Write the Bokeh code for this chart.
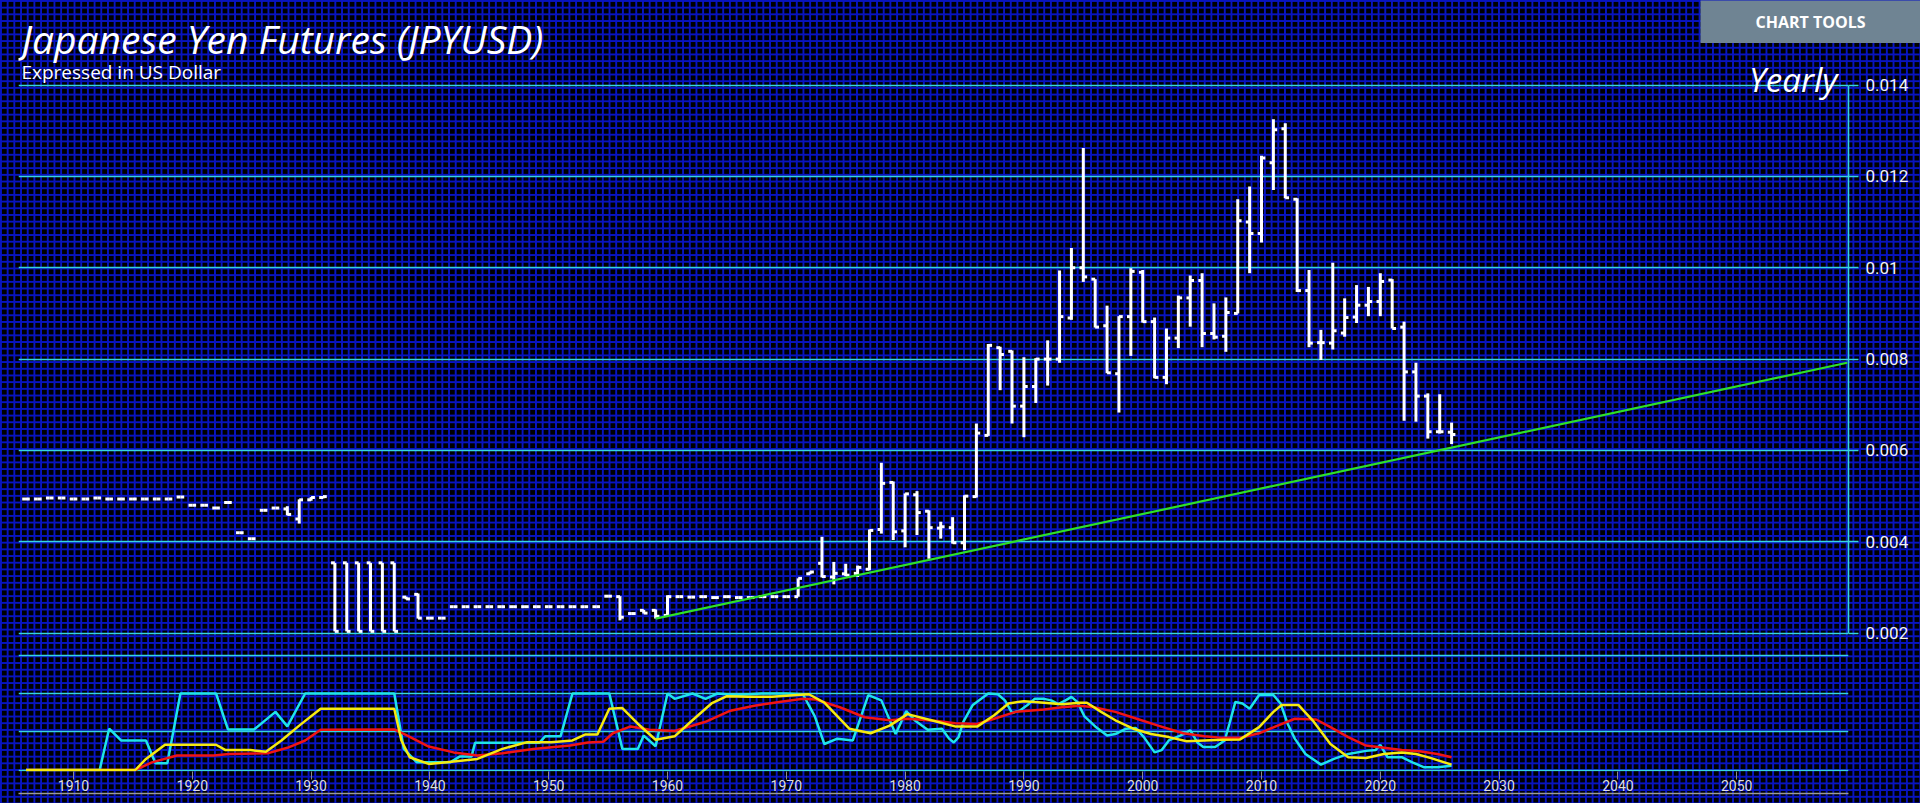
from bokeh.plotting import figure
from bokeh.models import (Range1d, FixedTicker, Grid, Label, LinearAxis,
                          CustomJSTickFormatter, GlobalInlineStyleSheet)
from bokeh.embed import file_html
from bokeh.resources import INLINE

# ---------------- data ----------------
years = list(range(1906, 2027))

open_ = [
    0.00494, 0.00494, 0.00496, 0.00496,
    0.00494, 0.00494, 0.00496, 0.00494, 0.00494, 0.00494, 0.00494, 0.00494, 0.00494, 0.00498,
    0.0048, 0.0048, 0.00474, 0.00486, 0.0042, 0.00407, 0.00469, 0.00474, 0.00472, 0.0045,
    0.00492, 0.00497, 0.00354, 0.00354, 0.00354, 0.00354, 0.00354, 0.00354, 0.00279, 0.00285,
    0.00233, 0.00233, 0.00258, 0.00258, 0.00258, 0.00258, 0.00258, 0.00258, 0.00258, 0.00258,
    0.00258, 0.00258, 0.00258, 0.00258, 0.00258, 0.00281, 0.0028, 0.00243, 0.0025, 0.0025,
    0.00239, 0.0028, 0.00279, 0.0028, 0.00278, 0.0028, 0.00278, 0.00278, 0.0028, 0.0028,
    0.0028, 0.0028, 0.0033, 0.00353, 0.00323, 0.0033, 0.00331, 0.0034, 0.00427, 0.0053,
    0.00424, 0.00503, 0.00467, 0.0043, 0.00431, 0.00398, 0.00499, 0.00633, 0.00825, 0.00817,
    0.00697, 0.0074, 0.008, 0.008, 0.0089, 0.01, 0.00975, 0.00873, 0.00768, 0.00893,
    0.0099, 0.00882, 0.0076, 0.00846, 0.00934, 0.00972, 0.00856, 0.0085, 0.009, 0.011,
    0.01075, 0.0123, 0.01304, 0.0115, 0.0095, 0.00836, 0.00835, 0.00857, 0.00892, 0.00918,
    0.00926, 0.00973, 0.0087, 0.00772, 0.00719, 0.00641, 0.0064,
]
high = [
    0.00494, 0.00494, 0.00496, 0.00496,
    0.00494, 0.00494, 0.00496, 0.00494, 0.00494, 0.00494, 0.00494, 0.00494, 0.00494, 0.00498,
    0.0048, 0.0048, 0.00474, 0.00486, 0.0042, 0.00407, 0.00469, 0.00474, 0.00478, 0.00493,
    0.00498, 0.005, 0.00354, 0.00354, 0.00354, 0.00354, 0.00354, 0.00354, 0.0028, 0.00287,
    0.00233, 0.00233, 0.00258, 0.00258, 0.00258, 0.00258, 0.00258, 0.00258, 0.00258, 0.00258,
    0.00258, 0.00258, 0.00258, 0.00258, 0.00258, 0.00281, 0.00281, 0.00243, 0.00251, 0.00252,
    0.00283, 0.0028, 0.00279, 0.0028, 0.00278, 0.0028, 0.00278, 0.00278, 0.0028, 0.0028,
    0.0028, 0.0032, 0.00335, 0.00411, 0.00356, 0.00352, 0.00348, 0.00427, 0.00573, 0.00532,
    0.00506, 0.00511, 0.00469, 0.00444, 0.00454, 0.00502, 0.00659, 0.00833, 0.00827, 0.00819,
    0.00804, 0.00802, 0.00841, 0.00994, 0.01043, 0.01262, 0.00975, 0.00917, 0.00894, 0.00999,
    0.00995, 0.00891, 0.00867, 0.00939, 0.00983, 0.00988, 0.00922, 0.00935, 0.0115, 0.01178,
    0.01245, 0.01325, 0.01316, 0.01152, 0.00995, 0.00864, 0.01011, 0.00933, 0.00962, 0.00958,
    0.00988, 0.00975, 0.00882, 0.00792, 0.00725, 0.00723, 0.00661,
]
low = [
    0.00494, 0.00494, 0.00496, 0.00496,
    0.00494, 0.00494, 0.00496, 0.00494, 0.00494, 0.00494, 0.00494, 0.00494, 0.00494, 0.00498,
    0.0048, 0.0048, 0.00474, 0.00486, 0.0042, 0.00407, 0.00469, 0.00474, 0.00458, 0.0044,
    0.0049, 0.00495, 0.00204, 0.00204, 0.00204, 0.00204, 0.00204, 0.00204, 0.00274, 0.00232,
    0.00233, 0.00233, 0.00258, 0.00258, 0.00258, 0.00258, 0.00258, 0.00258, 0.00258, 0.00258,
    0.00258, 0.00258, 0.00258, 0.00258, 0.00258, 0.00281, 0.00228, 0.00243, 0.00243, 0.00232,
    0.00239, 0.0028, 0.00279, 0.0028, 0.00278, 0.0028, 0.00278, 0.00278, 0.0028, 0.0028,
    0.0028, 0.0028, 0.00329, 0.00322, 0.00307, 0.00325, 0.00323, 0.00338, 0.00418, 0.00404,
    0.00388, 0.00415, 0.00363, 0.00407, 0.00396, 0.00382, 0.00497, 0.00632, 0.00732, 0.00659,
    0.00629, 0.00704, 0.00742, 0.00792, 0.00886, 0.00969, 0.00869, 0.00769, 0.00683, 0.00807,
    0.0088, 0.00758, 0.00745, 0.00824, 0.00871, 0.00826, 0.00843, 0.00816, 0.009, 0.00988,
    0.01055, 0.0117, 0.01152, 0.00947, 0.00826, 0.00798, 0.00821, 0.00849, 0.00879, 0.00894,
    0.00894, 0.00867, 0.00665, 0.00663, 0.00626, 0.00637, 0.00614,
]
close = [
    0.00494, 0.00494, 0.00496, 0.00496,
    0.00494, 0.00494, 0.00496, 0.00494, 0.00494, 0.00494, 0.00494, 0.00494, 0.00494, 0.00498,
    0.0048, 0.0048, 0.00474, 0.00486, 0.0042, 0.00407, 0.00469, 0.00474, 0.0046, 0.00492,
    0.00497, 0.00499, 0.00204, 0.00204, 0.00204, 0.00204, 0.00204, 0.00204, 0.00275, 0.00233,
    0.00233, 0.00233, 0.00258, 0.00258, 0.00258, 0.00258, 0.00258, 0.00258, 0.00258, 0.00258,
    0.00258, 0.00258, 0.00258, 0.00258, 0.00258, 0.00281, 0.00235, 0.00243, 0.00244, 0.00237,
    0.0028, 0.0028, 0.00279, 0.0028, 0.00278, 0.0028, 0.00278, 0.00278, 0.0028, 0.0028,
    0.0028, 0.0032, 0.00334, 0.00324, 0.00331, 0.00327, 0.00344, 0.00425, 0.00528, 0.00422,
    0.00505, 0.00464, 0.00431, 0.00433, 0.00398, 0.005, 0.00638, 0.0083, 0.0081, 0.00697,
    0.0074, 0.008, 0.008, 0.00893, 0.01, 0.0098, 0.0087, 0.0077, 0.00893, 0.00992,
    0.00882, 0.0076, 0.00846, 0.00934, 0.00972, 0.00856, 0.00848, 0.00902, 0.01103, 0.01075,
    0.0124, 0.01302, 0.01153, 0.0095, 0.00835, 0.00836, 0.00862, 0.00891, 0.00918, 0.00926,
    0.0097, 0.00867, 0.00772, 0.00719, 0.00641, 0.00641, 0.00635,
]

# long-term trend line (start / end)
trend_x = [1959.0, 2059.3]
trend_y = [0.00232, 0.00792]

# oscillator lines (0..100 scale)
cyan_x = [1906, 1912.2, 1913, 1914, 1916.1, 1916.9, 1917.9, 1919, 1922, 1923, 1925.2, 1927, 1928,
          1929.5, 1937, 1937.8, 1938.9, 1941.7, 1942.5, 1943.5, 1943.8, 1949.2, 1949.7, 1951,
          1952, 1955.1, 1956.2, 1957.5, 1958, 1959, 1960, 1960.6, 1962.1, 1963.2, 1964.2,
          1965.8, 1967.9, 1970, 1971.4, 1972.4, 1973.2, 1974.3, 1975.6, 1976.9, 1978, 1979.2,
          1980.1, 1980.8, 1981.9, 1983.1, 1983.7, 1984.1, 1984.5, 1984.9, 1985.7, 1987, 1987.8,
          1988.4, 1989, 1989.7, 1990.3, 1990.9, 1991.7, 1992.3, 1992.9, 1993.5, 1994, 1994.5,
          1995.1, 1996, 1997, 1997.7, 1998.6, 1999.4, 2000.1, 2001, 2001.6, 2002.2, 2003.4,
          2004, 2004.6, 2005.1, 2006.1, 2006.9, 2007.3, 2007.8, 2008.4, 2009, 2009.8, 2011,
          2011.6, 2012.2, 2012.8, 2013.7, 2015, 2016.1, 2017.3, 2018.8, 2019.6, 2020, 2020.6,
          2021.8, 2022.7, 2023.7, 2024.8, 2026]
cyan_y = [0, 0, 54, 38.6, 38.6, 8.8, 8.8, 100, 100, 53, 53, 76, 57,
          100, 100, 27.6, 10, 10, 17.5, 17.5, 35.5, 35.5, 44, 44,
          100, 100, 27.6, 27.6, 45, 31, 100, 93, 100, 93, 100,
          98, 100, 100, 99, 70, 34, 41, 38.6, 98, 91, 47,
          77, 65, 52.6, 54, 41, 36, 43, 63, 85, 100, 99,
          91, 74.6, 78, 85, 93, 93, 91, 86, 91, 95.6, 89,
          70, 57, 45, 47, 54, 55, 43, 23, 26, 38.6, 46.5,
          52, 36, 30, 30, 38.6, 60.5, 89, 87, 80, 98, 98,
          87, 60.5, 41, 21, 7, 14.5, 21, 25, 26, 33, 16.7,
          16.7, 10, 3.5, 3.5, 5.7]

yellow_x = [1906, 1915.2, 1916.1, 1917.7, 1922, 1922.8, 1924.9, 1926.2, 1927.5, 1929, 1930.8, 1937,
            1937.6, 1938.3, 1939.9, 1941.4, 1944, 1946.1, 1948.2, 1950.2, 1952, 1953.1, 1954.1,
            1955.1, 1956.2, 1957.5, 1959, 1960.6, 1962.1, 1963.7, 1965, 1966.8, 1968.8, 1970.9,
            1971.9, 1973.2, 1975.3, 1977.1, 1978.7, 1980.2, 1982.7, 1984.2, 1986.1, 1987.5,
            1988.7, 1990, 1991.7, 1993.2, 1994.7, 1995.3, 1996.5, 1997.7, 1999.2, 2000.7, 2002.2,
            2003.7, 2005.2, 2006.7, 2008.2, 2009.8, 2011, 2011.7, 2013.1, 2014.3, 2015.8, 2017.3,
            2018.8, 2020.3, 2021.8, 2023, 2024.2, 2026]
yellow_y = [0, 0, 14.5, 33, 33, 26, 26, 24, 38.6, 58, 80, 80,
            38.6, 16.7, 8, 10, 14.5, 27.6, 36.4, 36.4, 38.6, 46.5, 46.5,
            80, 81, 60.5, 39.5, 44, 65, 87, 96.5, 95.6, 95.6, 98,
            99, 88, 54, 48, 58, 73, 63, 57, 57, 71.5,
            87, 90, 88, 86, 88, 88, 76, 65, 54, 47, 43,
            37.7, 38.6, 39.5, 40, 56, 76, 85, 85, 65, 34, 16.7,
            15.8, 21, 23, 21, 15.8, 7]

red_x = [1906, 1915.2, 1916.6, 1918.7, 1921.8, 1923.1, 1926.4, 1928, 1929.5, 1930.8, 1937, 1938.1,
         1939.9, 1942, 1944, 1946.1, 1948.7, 1951.8, 1953.3, 1954.6, 1955.4, 1956.9, 1958.5,
         1960.6, 1963.2, 1965.2, 1967.3, 1969.4, 1971.4, 1972.5, 1974.5, 1976.6, 1978.7, 1980.2,
         1981.1, 1982.7, 1984.2, 1986, 1987.5, 1989.3, 1991.7, 1993.2, 1994.7, 1995.9, 1997.7,
         1999.5, 2001.3, 2003.4, 2005.2, 2006.7, 2008.2, 2009.8, 2011.2, 2012.8, 2014.6, 2015.8,
         2017.3, 2018.8, 2020.3, 2021.8, 2023.3, 2024.8, 2026]
red_y = [0, 0, 10, 19, 19, 21, 22, 29, 38.6, 52.6, 53, 45,
         30.7, 23, 19, 22, 27.6, 32, 36, 37, 48, 57, 52.6,
         51, 63, 77, 84, 89, 93, 92, 82, 69, 65, 67,
         66, 64, 61, 60, 67, 76, 79, 82, 84, 82, 76,
         67, 58, 48, 44, 42, 42, 48, 57, 67, 66, 56,
         43, 32, 29, 26, 24.6, 21, 16.7]

price_ticks = [0.002, 0.004, 0.006, 0.008, 0.010, 0.012, 0.014]
osc_levels = [0, 50, 100, 150]
x_ticks = [1910, 1920, 1930, 1940, 1950, 1960, 1970, 1980, 1990, 2000, 2010, 2020, 2030, 2040, 2050]

TITLE = "Japanese Yen Futures (JPYUSD)"
SUBTITLE = "Expressed in US Dollar"
PERIOD = "Yearly"
BUTTON = "CHART TOOLS"

# ---------------- styling ----------------
CYAN_GRID = "#36d4de"
TEXT = "#f2f2f2"
TICK = 0.32  # half-width of open/close ticks, in years
FONT = "Open Sans"

page_css = GlobalInlineStyleSheet(css="""
body {
  background-color: #000000;
  background-image: linear-gradient(to right, #0814c0 2px, transparent 2px),
                    linear-gradient(to bottom, #0814c0 2px, transparent 2px);
  background-size: 6.7px 6.7px;
}
body > div:nth-of-type(2),
body > div:nth-of-type(2) > div {
  position: absolute;
  top: 0px;
  left: 1700px;
}
""")

# ---- main chart ----
p = figure(width=1920, height=803, output_backend="svg", toolbar_location=None,
           x_range=Range1d(1905.37, 2059.41),
           y_range=Range1d(-0.0010274, 0.0158497),
           y_axis_location="right",
           min_border_left=18, min_border_right=72,
           min_border_top=0, min_border_bottom=32,
           background_fill_color=None, border_fill_color=None,
           outline_line_color=None)
p.extra_y_ranges = {"osc": Range1d(-1.96, 1005.9)}
p.stylesheets = [page_css]

# grids
p.xgrid.visible = False
p.ygrid.ticker = FixedTicker(ticks=price_ticks)
p.ygrid.grid_line_color = CYAN_GRID
p.ygrid.grid_line_width = 1.6
p.add_layout(Grid(dimension=1, ticker=FixedTicker(ticks=osc_levels), y_range_name="osc",
                  grid_line_color=CYAN_GRID, grid_line_width=1.6))

# right price axis
yax = p.yaxis[0]
yax.ticker = FixedTicker(ticks=price_ticks)
yax.formatter = CustomJSTickFormatter(code="return String(parseFloat(tick.toFixed(4)));")
yax.bounds = (0.002, 0.014)
yax.axis_line_color = CYAN_GRID
yax.axis_line_width = 1.6
yax.major_tick_line_color = CYAN_GRID
yax.major_tick_line_width = 1.6
yax.major_tick_out = 10
yax.major_tick_in = 0
yax.minor_tick_line_color = None
yax.major_label_text_color = TEXT
yax.major_label_text_font = "Roboto"
yax.major_label_text_font_size = "17px"
yax.major_label_standoff = 7

# bottom year axis
xax = p.xaxis[0]
xax.ticker = FixedTicker(ticks=x_ticks)
xax.axis_line_color = None
xax.major_tick_line_color = "#8c8c8c"
xax.major_tick_out = 8
xax.major_tick_in = 0
xax.minor_tick_line_color = None
xax.major_label_text_color = "#dedede"
xax.major_label_text_font = "Roboto"
xax.major_label_text_font_size = "14px"
xax.major_label_standoff = 0

# thin base line under the year labels
base = LinearAxis(ticker=FixedTicker(ticks=[]), axis_line_color="#9a9a9a",
                  axis_line_width=1.5, major_tick_line_color=None,
                  minor_tick_line_color=None, major_label_text_alpha=0)
p.add_layout(base, "below")

# yearly OHLC bars
p.segment(x0=years, y0=low, x1=years, y1=high, line_color="white", line_width=3)
p.segment(x0=[y - TICK for y in years], y0=open_, x1=years, y1=open_,
          line_color="white", line_width=3)
p.segment(x0=years, y0=close, x1=[y + TICK for y in years], y1=close,
          line_color="white", line_width=3)

# trend line
p.line(trend_x, trend_y, line_color="#2fe02a", line_width=2.2)

# oscillator
p.line(cyan_x, cyan_y, y_range_name="osc", line_color="#1fe3ea", line_width=2.5)
p.line(red_x, red_y, y_range_name="osc", line_color="#f21414", line_width=2.5)
p.line(yellow_x, yellow_y, y_range_name="osc", line_color="#f6ea10", line_width=2.5)

# titles and period label
p.add_layout(Label(x=1905.62, y=0.0150179, text=TITLE, text_align="left",
                   text_baseline="middle", text_font=FONT, text_font_style="italic",
                   text_font_size="39px", text_color="white"))
p.add_layout(Label(x=1905.62, y=0.014274, text=SUBTITLE, text_align="left",
                   text_baseline="middle", text_font=FONT, text_font_style="normal",
                   text_font_size="19px", text_color="white"))
p.add_layout(Label(x=2058.48, y=0.0141204, text=PERIOD, text_align="right",
                   text_baseline="middle", text_font=FONT, text_font_style="italic",
                   text_font_size="33px", text_color="white"))

# ---- "CHART TOOLS" button (overlaid at the top right) ----
btn = figure(width=220, height=43, output_backend="svg", toolbar_location=None,
             x_range=Range1d(0, 220), y_range=Range1d(0, 43),
             x_axis_location=None, y_axis_location=None, min_border=0,
             background_fill_color="#6f8493", border_fill_color="#6f8493",
             outline_line_color=None)
btn.xgrid.visible = False
btn.ygrid.visible = False
btn.add_layout(Label(x=110, y=21.5, text=BUTTON, text_align="center",
                     text_baseline="middle", text_font=FONT, text_font_style="bold",
                     text_font_size="16px", text_color="white"))

open("out.html", "w").write(file_html([p, btn], INLINE))
